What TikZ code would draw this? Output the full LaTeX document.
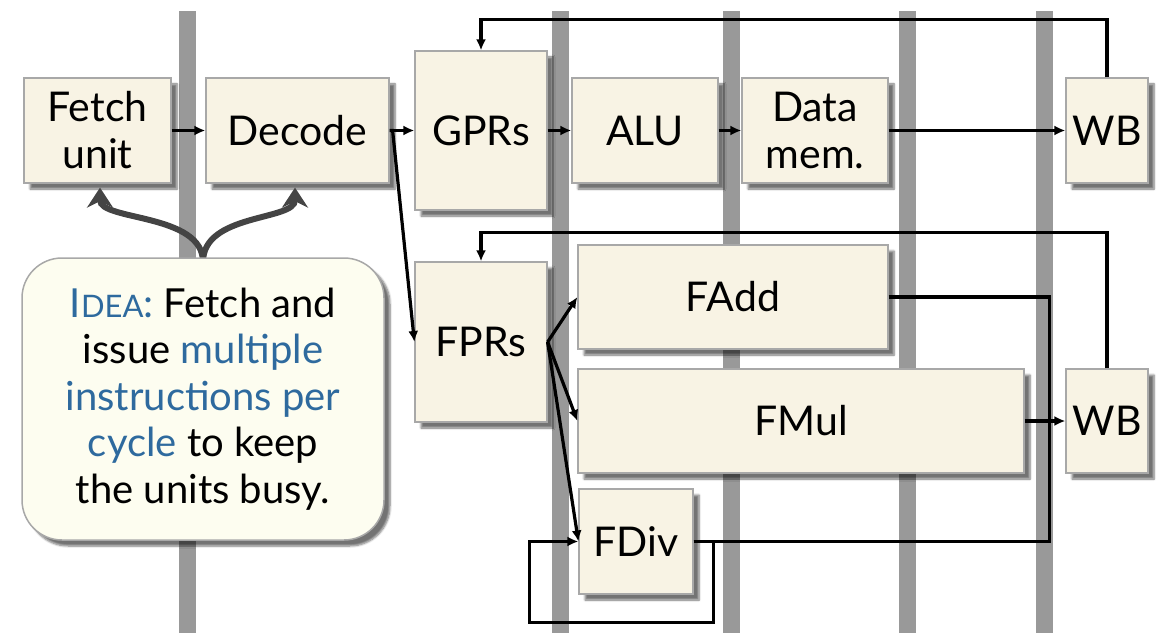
\documentclass[tikz,border=0pt]{standalone}
\usepackage{fontspec}
\setmainfont{Lato}
\usetikzlibrary{arrows.meta,shadows.blur,calc}
\definecolor{boxfill}{HTML}{F8F3E4}
\definecolor{boxline}{HTML}{A8A8A8}
\definecolor{barcol}{HTML}{999999}
\definecolor{ideafill}{HTML}{FDFDF0}
\definecolor{ideablue}{HTML}{2E6A9E}
\definecolor{curvecol}{HTML}{444444}
\begin{document}
\begin{tikzpicture}[x=1pt,y=-1pt,
  unit/.style={draw=boxline, line width=1.2pt, fill=boxfill, inner sep=0pt, align=center,
    font=\fontsize{41}{47}\selectfont,
    blur shadow={shadow xshift=6pt,shadow yshift=-6pt,shadow blur steps=6,shadow opacity=55}},
  conn/.style={line width=3.2pt, -{Latex[length=11pt,width=10pt]}},
  plain/.style={line width=3.2pt},
  ideaarrow/.style={draw=curvecol, line width=6pt, -{Stealth[length=20pt,width=26pt]}}]
\useasboundingbox (0,0) rectangle (1174,644);
% pipeline bars
\foreach \xa/\xb in {179/196,552/569,723/740,899/916,1036/1053}
  \fill[barcol] (\xa,11) rectangle (\xb,633);
% units
\node[unit, minimum width=147pt, minimum height=105pt] (fetch) at (97.5,130.5) {Fetch\\unit};
\node[unit, minimum width=183pt, minimum height=105pt] (decode) at (297.5,130.5) {Decode};
\node[unit, minimum width=132pt, minimum height=159pt] (gprs) at (481,130.5) {GPRs};
\node[unit, minimum width=146pt, minimum height=105pt] (alu) at (645,130.5) {ALU};
\node[unit, minimum width=146pt, minimum height=105pt] (data) at (815,130.5) {Data\\mem.};
\node[unit, minimum width=82pt, minimum height=105pt] (wb1) at (1107,130.5) {WB};
\node[unit, minimum width=132pt, minimum height=160pt] (fprs) at (481,342) {FPRs};
\node[unit, minimum width=310pt, minimum height=104pt] (fadd) at (733,297) {FAdd};
\node[unit, minimum width=446pt, minimum height=104pt] (fmul) at (801,421) {FMul};
\node[unit, minimum width=82pt, minimum height=104pt] (wb2) at (1107,421) {WB};
\node[unit, minimum width=114pt, minimum height=105pt] (fdiv) at (636,541.5) {FDiv};
% idea box
\draw[ideaarrow] (203,262) .. controls (203,213) and (100,221) .. ($(fetch.south)+(2.5,4)$);
\draw[ideaarrow] (203,262) .. controls (203,213) and (295,221) .. ($(decode.south)+(-2.5,4)$);
\node[draw=boxline, line width=1.5pt, fill=ideafill, rounded corners=40pt, inner sep=0pt,
  minimum width=362pt, minimum height=282pt, align=center,
  font=\fontsize{40}{46.5}\selectfont,
  blur shadow={shadow xshift=6pt,shadow yshift=-6pt,shadow blur steps=6,shadow opacity=55}]
  (idea) at (203,399)
  {{\color{ideablue}I{\fontsize{31}{46}\selectfont DEA}:} Fetch and\\
   issue {\color{ideablue}multiple}\\
   {\color{ideablue}instructions per}\\
   {\color{ideablue}cycle} to keep\\
   the units busy.};
% connectors
\draw[conn] (fetch) -- (decode);
\draw[conn] (decode) -- (gprs);
\coordinate (dturn) at ($(decode.east)+(3,0)$);
\draw[conn] (decode.east) -- (dturn) -- (fprs.west);
\draw[conn] (gprs) -- (alu);
\draw[conn] (alu) -- (data);
\draw[conn] (data) -- (wb1);
\draw[conn] (wb1.north) |- ($(gprs.north)+(0,-31)$) -- (gprs.north);
\draw[conn] (wb2.north) |- ($(fprs.north)+(0,-29)$) -- (fprs.north);
\draw[conn] (fprs.east) -- (fadd.west);
\draw[conn] (fprs.east) -- (fmul.west);
\draw[conn] (fprs.east) -- (fdiv.west);
\coordinate (merge) at ($(fmul.east)+(25,0)$);
\draw[plain] (fadd.east) -| (merge);
\draw[plain] (fdiv.east) -| (merge);
\draw[conn] (fmul.east) -- (wb2.west);
\draw[conn] (fdiv.east) -- ++(20,0) -- ++(0,81) -- ++(-184,0) |- (fdiv.west);
\end{tikzpicture}
\end{document}
